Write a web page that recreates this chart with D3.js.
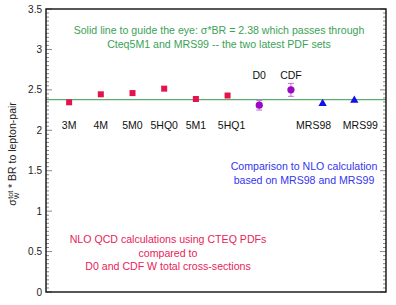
<!DOCTYPE html>
<html>
<head>
<meta charset="utf-8">
<script src="https://cdn.jsdelivr.net/npm/d3@7"></script>
<style>
  body { margin: 0; background: #fff; }
  text { font-family: "Liberation Sans", Arial, sans-serif; }
</style>
</head>
<body>
<svg width="396" height="305"></svg>
<script>
// data
var cteqNames = ['3M', '4M', '5M0', '5HQ0', '5M1', '5HQ1'];
var cteqValues = [2.346, 2.445, 2.46, 2.515, 2.387, 2.43];

var dataNames = ['D0', 'CDF'];
var dataValues = [2.31, 2.50];
var dataErrors = [0.06, 0.08];

var mrsNames = ['MRS98', 'MRS99'];
var mrsValues = [2.33, 2.37];

var guideValue = 2.38;
var yTicks = [0, 0.5, 1, 1.5, 2, 2.5, 3, 3.5];

var svg = d3.select('svg');
var margin = {t: 9, r: 10, b: 13, l: 46};
var width = 396 - margin.l - margin.r;
var height = 305 - margin.t - margin.b;

var g = svg.append('g')
    .attr('transform', 'translate(' + [margin.l, margin.t] + ')');

var xScale = d3.scaleLinear().domain([0.27, 11]).range([0, width]);
var yScale = d3.scaleLinear().domain([0, 3.5]).range([height, 0]);

// all points share one index axis: cteq 1..6, data 7..8, mrs 9..10
var cteq = cteqNames.map((n, i) => ({name: n, x: i + 1, y: cteqValues[i]}));
var meas = dataNames.map((n, i) => ({name: n, x: i + 7, y: dataValues[i], e: dataErrors[i]}));
var mrs = mrsNames.map((n, i) => ({name: n, x: i + 9, y: mrsValues[i]}));

// ticks, inward on both sides
var minor = d3.range(0, 3.5001, 0.05);
function tickSide(x0, dir) {
    g.selectAll(null)
        .data(minor)
        .enter()
        .append('line')
        .attr('x1', x0)
        .attr('x2', d => x0 + dir * (Math.abs(d * 2 - Math.round(d * 2)) < 1e-6 ? 6 : 3))
        .attr('y1', d => yScale(d))
        .attr('y2', d => yScale(d))
        .attr('stroke', '#555')
        .attr('stroke-width', 0.7);
}
tickSide(0, 1);
tickSide(width, -1);

g.selectAll('.ylab')
    .data(yTicks)
    .enter()
    .append('text')
    .attr('class', 'ylab')
    .attr('x', -4)
    .attr('y', d => yScale(d))
    .attr('dy', '0.35em')
    .attr('text-anchor', 'end')
    .attr('font-size', 10)
    .attr('fill', '#222')
    .text(d => d);

// guide line
g.append('line')
    .attr('x1', 0)
    .attr('x2', width)
    .attr('y1', yScale(guideValue))
    .attr('y2', yScale(guideValue))
    .attr('stroke', '#5cae6c')
    .attr('stroke-width', 1.2);

// CTEQ squares
g.selectAll('.sq')
    .data(cteq)
    .enter()
    .append('rect')
    .attr('x', d => xScale(d.x) - 3)
    .attr('y', d => yScale(d.y) - 3)
    .attr('width', 6)
    .attr('height', 6)
    .attr('fill', '#e5124d');

// measurements with error bars
var mg = g.selectAll('.meas')
    .data(meas)
    .enter()
    .append('g');
mg.append('line')
    .attr('x1', d => xScale(d.x))
    .attr('x2', d => xScale(d.x))
    .attr('y1', d => yScale(d.y - d.e))
    .attr('y2', d => yScale(d.y + d.e))
    .attr('stroke', '#cc66dd')
    .attr('stroke-width', 1);
[-1, 1].forEach(function(s) {
    mg.append('line')
        .attr('x1', d => xScale(d.x) - 3)
        .attr('x2', d => xScale(d.x) + 3)
        .attr('y1', d => yScale(d.y + s * d.e))
        .attr('y2', d => yScale(d.y + s * d.e))
        .attr('stroke', '#cc66dd')
        .attr('stroke-width', 1);
});
mg.append('circle')
    .attr('cx', d => xScale(d.x))
    .attr('cy', d => yScale(d.y))
    .attr('r', 3.6)
    .attr('fill', '#9a08c4');

// MRS triangles
var tri = d3.symbol().type(d3.symbolTriangle).size(30);
g.selectAll('.tri')
    .data(mrs)
    .enter()
    .append('path')
    .attr('d', tri)
    .attr('transform', d => 'translate(' + [xScale(d.x), yScale(d.y)] + ')')
    .attr('fill', '#1212e6');

// point labels (a few are nudged sideways like in the original)
var nudge = {'5HQ1': 4, 'MRS98': -9, 'MRS99': 6};
g.selectAll('.plab')
    .data(cteq.concat(mrs))
    .enter()
    .append('text')
    .attr('x', d => xScale(d.x) + (nudge[d.name] || 0))
    .attr('y', yScale(2.38) + 29)
    .attr('text-anchor', 'middle')
    .attr('font-size', 10.5)
    .attr('fill', '#111')
    .text(d => d.name);

g.selectAll('.mlab')
    .data(meas)
    .enter()
    .append('text')
    .attr('x', d => xScale(d.x))
    .attr('y', yScale(2.38) - 21)
    .attr('text-anchor', 'middle')
    .attr('font-size', 10.5)
    .attr('fill', '#111')
    .text(d => d.name);

// notes
function note(lines, cx, y0, color) {
    g.selectAll(null)
        .data(lines)
        .enter()
        .append('text')
        .attr('x', cx - margin.l)
        .attr('y', (d, i) => y0 - margin.t + i * 13.5)
        .attr('text-anchor', 'middle')
        .attr('font-size', 10.6)
        .attr('fill', color)
        .text(d => d);
}
note(['Solid line to guide the eye: \u03c3*BR = 2.38 which passes through',
      'Cteq5M1 and MRS99 -- the two latest PDF sets'], 219, 34, '#3aa257');
note(['Comparison to NLO calculation', 'based on MRS98 and MRS99'], 304, 170, '#3535ee');
note(['NLO QCD calculations using CTEQ PDFs', 'compared to',
      'D0 and CDF W total cross-sections'], 168, 243, '#e8245a');

// frame
g.append('rect')
    .attr('width', width)
    .attr('height', height)
    .attr('fill', 'none')
    .attr('stroke', '#111')
    .attr('stroke-width', 1.4);

// y title
var yt = svg.append('text')
    .attr('transform', 'translate(16,' + (margin.t + 145) + ') rotate(-90)')
    .attr('text-anchor', 'middle')
    .attr('font-size', 10.5)
    .attr('fill', '#222');
yt.append('tspan').text('\u03c3');
yt.append('tspan').attr('font-size', 7).attr('dy', 2.5).text('W');
yt.append('tspan').attr('font-size', 7).attr('dx', -6).attr('dy', -6).text('tot');
yt.append('tspan').attr('dy', 3.5).text(' * BR to lepton-pair');
</script>
</body>
</html>
